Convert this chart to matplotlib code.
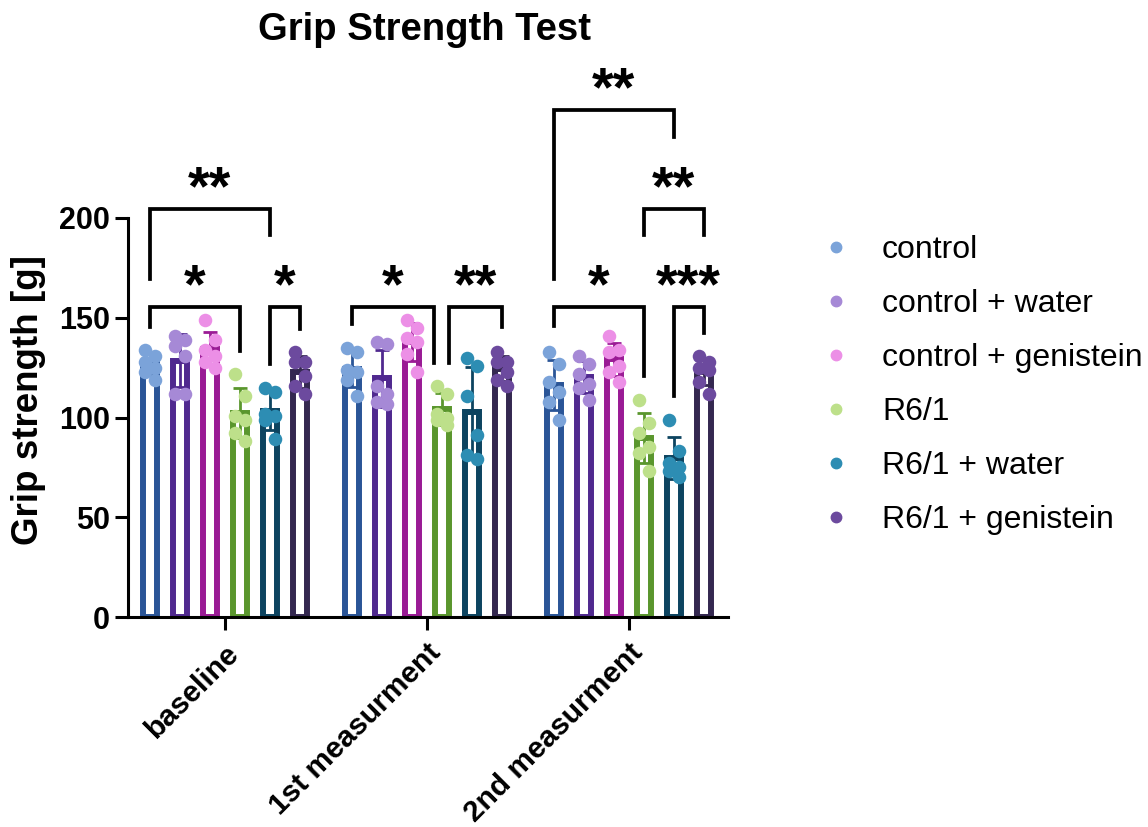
import numpy as np
import matplotlib
matplotlib.use("Agg")
import matplotlib.pyplot as plt
from matplotlib.lines import Line2D

plt.rcParams["font.family"] = ["Liberation Sans", "DejaVu Sans"]

timepoints = ["baseline", "1st measurment", "2nd measurment"]
groups = ["control", "control + water", "control + genistein",
          "R6/1", "R6/1 + water", "R6/1 + genistein"]

# individual animals, grip strength [g], per timepoint
baseline = [
    [134, 131, 128, 125, 123, 119],
    [141, 139, 136, 131, 112, 112],
    [149, 139, 134, 131, 128, 125],
    [122, 111, 101, 99, 92, 88],
    [115, 113, 102, 101, 99, 89],
    [133, 128, 128, 121, 116, 112],
]
first = [
    [135, 133, 124, 123, 119, 111],
    [138, 137, 116, 112, 108, 107],
    [149, 145, 140, 138, 132, 123],
    [116, 112, 102, 100, 99, 96],
    [130, 126, 111, 91, 81, 79],
    [133, 128, 128, 123, 119, 116],
]
second = [
    [133, 127, 118, 113, 108, 99],
    [131, 127, 122, 117, 115, 109],
    [141, 134, 133, 126, 123, 118],
    [109, 97, 92, 85, 82, 73],
    [99, 83, 77, 75, 73, 70],
    [131, 128, 125, 124, 118, 112],
]
points = [baseline, first, second]

# significance: (timepoint, group a, group b, label)
comparisons = [
    (0, 0, 3, "*"), (0, 4, 5, "*"), (0, 0, 4, "**"),
    (1, 0, 3, "*"), (1, 3, 5, "**"),
    (2, 0, 3, "*"), (2, 4, 5, "***"), (2, 3, 5, "**"), (2, 0, 4, "**"),
]
# bracket layout: (level, left leg end, right leg end, x shift left, x shift right)
bracket_layout = [
    (155.5, 145.5, 133.5, 0, 0), (155.5, 127, 144.5, 0, 0), (204.5, 169.5, 191.5, 0, 0),
    (155.5, 147, 127.5, 0, -0.035), (155.5, 127.5, 145.5, 0.035, 0),
    (155.5, 146, 121, 0, 0), (155.5, 111, 142.5, 0, 0), (204.5, 191.5, 191.5, 0, 0),
    (254, 169.5, 240.5, 0, 0),
]

edge_colors = ["#2A5597", "#50298F", "#9A1B95", "#5A962D", "#0D4460", "#342850"]
dot_colors = ["#7BA3D9", "#A689D6", "#EC8FE6", "#BDE08A", "#2D8DB3", "#6C4A9E"]

fig = plt.figure(figsize=(11.48, 8.27), dpi=100)
ax = fig.add_axes([0.1115, 0.2539, 0.5226, 0.4825])

step = 0.1485
width = 0.0693
jitter = np.array([-0.025, 0.025, -0.025, 0.025, -0.025, 0.025])

def xpos(t, g):
    return t + (g - 2.5) * step

for t in range(3):
    for g in range(6):
        vals = np.array(points[t][g], dtype=float)
        m = vals.mean()
        sd = vals.std(ddof=1)
        x = xpos(t, g)
        ax.bar(x, m, width=width, facecolor="white", edgecolor=edge_colors[g],
               linewidth=4.3, zorder=2)
        ax.errorbar(x, m, yerr=sd, fmt="none", ecolor=edge_colors[g],
                    elinewidth=2, capsize=5, capthick=2, zorder=3)
        ax.scatter(x + jitter[:len(vals)], vals, s=95, color=dot_colors[g],
                   linewidths=0, zorder=4)

for (t, a, b, lab), (lev, ya, yb, da, db) in zip(comparisons, bracket_layout):
    x1 = xpos(t, a) + da
    x2 = xpos(t, b) + db
    ax.plot([x1, x1, x2, x2], [ya, lev, lev, yb], color="black", lw=2.7,
            clip_on=False, solid_joinstyle="miter", zorder=5)
    ax.text((x1 + x2) / 2, lev + 2.5, lab, ha="center", va="baseline",
            fontsize=40, fontweight="bold", clip_on=False)

ax.set_xlim(-0.478, 2.492)
ax.set_ylim(0, 200)
ax.set_yticks([0, 50, 100, 150, 200])
ax.set_xticks([0, 1, 2])
ax.set_xticklabels(timepoints, rotation=45, ha="right", va="top",
                   rotation_mode="anchor", fontsize=21.5, fontweight="bold")
for lab in ax.get_yticklabels():
    lab.set_fontsize(22)
    lab.set_fontweight("bold")
ax.tick_params(axis="both", length=9.5, width=2.2, direction="out")
ax.tick_params(axis="x", pad=6)
for s in ["top", "right"]:
    ax.spines[s].set_visible(False)
for s in ["left", "bottom"]:
    ax.spines[s].set_linewidth(2.2)
    ax.spines[s].set_zorder(6)

ax.set_ylabel("Grip strength [g]", fontsize=26.5, fontweight="bold")
ax.yaxis.set_label_coords(-0.136, 0.545)

fig.text(0.3702, 1 - 40 / 827, "Grip Strength Test", ha="center", va="baseline",
         fontsize=27.5, fontweight="bold")

handles = [Line2D([], [], marker="o", linestyle="none", color=c, markersize=7.5)
           for c in dot_colors]
fig.legend(handles, groups, loc="upper left", bbox_to_anchor=(0.7143, 0.7159),
           frameon=False, fontsize=23, handlelength=1.0, handletextpad=0.94,
           labelspacing=0.75, borderpad=0, borderaxespad=0)

fig.savefig("out.png", dpi=100)
